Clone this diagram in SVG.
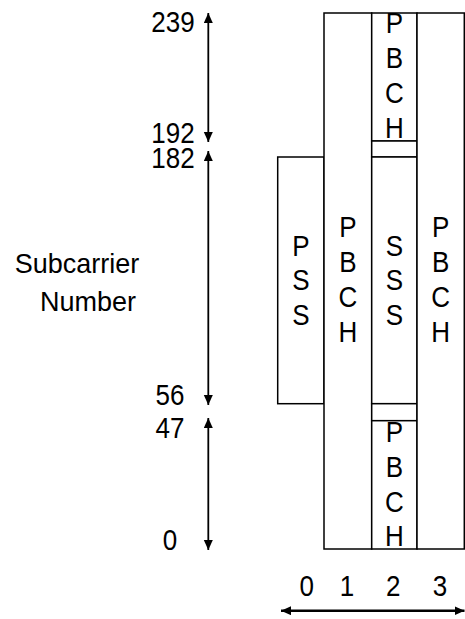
<svg xmlns="http://www.w3.org/2000/svg" width="465" height="619" viewBox="0 0 465 619">
<style>
.box{fill:#fff;stroke:#000;stroke-width:1.5}
.lbl{font-family:"Liberation Sans",Arial,sans-serif;font-size:26px;fill:#000;text-anchor:middle}
.ax{stroke:#000;stroke-width:1.8;fill:none}
</style>
<defs>
<marker id="ah" markerUnits="userSpaceOnUse" markerWidth="11" markerHeight="10" refX="10" refY="4.5" orient="auto-start-reverse">
<path d="M0,0 L10,4.5 L0,9 z" fill="#000"/>
</marker>
</defs>
<rect width="465" height="619" fill="#fff"/>
<g id="pss">
<rect class="box" x="277.7" y="157" width="46.3" height="246.7"/>
<text class="lbl" transform="translate(301,0) scale(1,1.1)"><tspan x="0" y="232.7">P</tspan><tspan x="0" y="264.1">S</tspan><tspan x="0" y="295.5">S</tspan></text>
</g>
<g id="pbch1">
<rect class="box" x="324" y="13" width="47.7" height="536"/>
<text class="lbl" transform="translate(348,0) scale(1,1.1)"><tspan x="0" y="215.7">P</tspan><tspan x="0" y="247">B</tspan><tspan x="0" y="278.8">C</tspan><tspan x="0" y="310.6">H</tspan></text>
</g>
<g id="pbch2top">
<rect class="box" x="371.7" y="13" width="45.3" height="128"/>
<text class="lbl" transform="translate(394.3,0) scale(1,1.1)"><tspan x="0" y="30">P</tspan><tspan x="0" y="61.8">B</tspan><tspan x="0" y="93.6">C</tspan><tspan x="0" y="125.5">H</tspan></text>
</g>
<g id="gap2top">
<rect class="box" x="371.7" y="141" width="45.3" height="16"/>
</g>
<g id="sss">
<rect class="box" x="371.7" y="157" width="45.3" height="246.7"/>
<text class="lbl" transform="translate(394.3,0) scale(1,1.1)"><tspan x="0" y="232.7">S</tspan><tspan x="0" y="264.1">S</tspan><tspan x="0" y="295.5">S</tspan></text>
</g>
<g id="gap2bot">
<rect class="box" x="371.7" y="403.7" width="45.3" height="17"/>
</g>
<g id="pbch2bot">
<rect class="box" x="371.7" y="420.7" width="45.3" height="128.3"/>
<text class="lbl" transform="translate(394.3,0) scale(1,1.1)"><tspan x="0" y="402.1">P</tspan><tspan x="0" y="433.6">B</tspan><tspan x="0" y="465.2">C</tspan><tspan x="0" y="496.7">H</tspan></text>
</g>
<g id="pbch3">
<rect class="box" x="417" y="13" width="47.3" height="536"/>
<text class="lbl" transform="translate(440.7,0) scale(1,1.1)"><tspan x="0" y="215.7">P</tspan><tspan x="0" y="247">B</tspan><tspan x="0" y="278.8">C</tspan><tspan x="0" y="310.6">H</tspan></text>
</g>
<g id="connectors">
<line class="ax" x1="208.3" y1="13" x2="208.3" y2="142" marker-start="url(#ah)" marker-end="url(#ah)"/>
<line class="ax" x1="208.3" y1="151" x2="208.3" y2="405" marker-start="url(#ah)" marker-end="url(#ah)"/>
<line class="ax" x1="208.3" y1="418" x2="208.3" y2="550" marker-start="url(#ah)" marker-end="url(#ah)"/>
<line class="ax" style="stroke-width:2.6" x1="281" y1="610.7" x2="464.5" y2="610.7" marker-start="url(#ah)" marker-end="url(#ah)"/>
</g>
<g id="labels">
<text class="lbl" transform="translate(173,0) scale(1,1.1)" x="0" y="28.8">239</text>
<text class="lbl" transform="translate(173,0) scale(1,1.1)" x="0" y="130.3">192</text>
<text class="lbl" transform="translate(173,0) scale(1,1.1)" x="0" y="153">182</text>
<text class="lbl" transform="translate(170,0) scale(1,1.1)" x="0" y="368.2">56</text>
<text class="lbl" transform="translate(170,0) scale(1,1.1)" x="0" y="398.5">47</text>
<text class="lbl" transform="translate(170,0) scale(1,1.1)" x="0" y="500">0</text>
<text class="lbl" style="font-size:27px" transform="translate(77,0) scale(1,1.05)" x="0" y="260.3">Subcarrier</text>
<text class="lbl" style="font-size:27px" transform="translate(88,0) scale(1,1.05)" x="0" y="296.2">Number</text>
<text class="lbl" transform="translate(306.7,0) scale(1,1.1)" x="0" y="541.8">0</text>
<text class="lbl" transform="translate(347,0) scale(1,1.1)" x="0" y="541.8">1</text>
<text class="lbl" transform="translate(393.3,0) scale(1,1.1)" x="0" y="541.8">2</text>
<text class="lbl" transform="translate(440,0) scale(1,1.1)" x="0" y="541.8">3</text>
</g>
</svg>
